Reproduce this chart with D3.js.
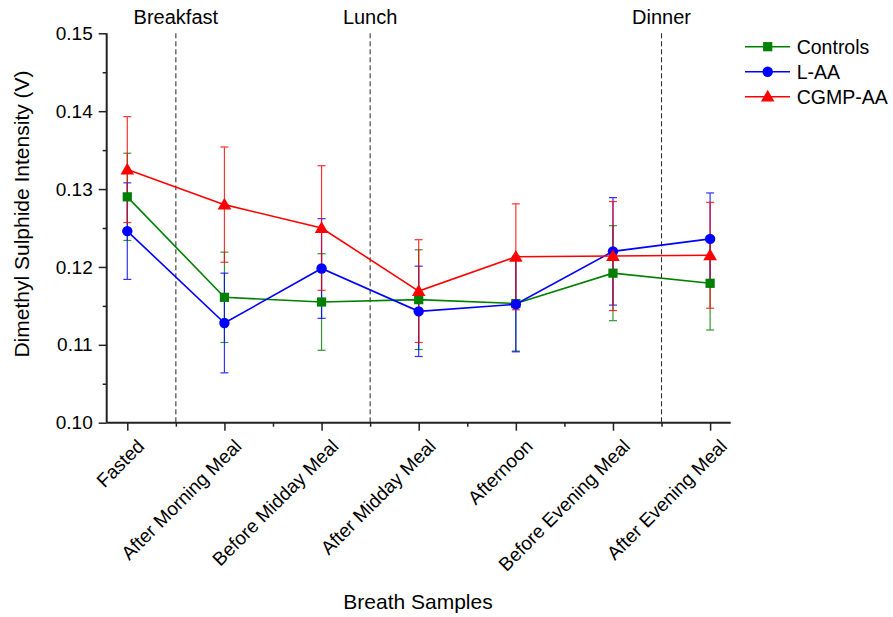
<!DOCTYPE html>
<html><head><meta charset="utf-8">
<script src="https://cdn.jsdelivr.net/npm/d3@7"></script>
<style>body{margin:0;background:#fff}svg{display:block;font-family:"Liberation Sans",Arial,sans-serif}</style>
</head><body><svg id="c" width="893" height="617"></svg>
<script>
const categories = ["Fasted","After Morning Meal","Before Midday Meal","After Midday Meal","Afternoon","Before Evening Meal","After Evening Meal"];
const seriesNames = ["Controls","L-AA","CGMP-AA"];
const controls = [0.1290,0.1161,0.1155,0.1158,0.1153,0.1192,0.1179];
const controlsErr = [0.0056,0.0058,0.0062,0.0064,0.0061,0.0061,0.0060];
const laa = [0.1246,0.1128,0.1198,0.1143,0.1152,0.1220,0.1236];
const laaErr = [0.0062,0.0064,0.0064,0.0058,0.0061,0.0069,0.0059];
const cgmp = [0.1325,0.1280,0.1250,0.1169,0.1213,0.1214,0.1215];
const cgmpErr = [0.0068,0.0074,0.0080,0.0066,0.0068,0.0070,0.0068];
const yTicks = [0.10,0.11,0.12,0.13,0.14,0.15];
const meals = [{label:"Breakfast",after:0},{label:"Lunch",after:2},{label:"Dinner",after:5}];

const svg = d3.select("#c");
const x = d3.scaleLinear().domain([-0.212,6.212]).range([106.7,730.7]);
const y = d3.scaleLinear().domain([0.10,0.15]).range([422.7,33.3]);

// dashed meal lines
meals.forEach(m=>{
  const xm = x(m.after+0.5);
  svg.append("line").attr("x1",xm).attr("x2",xm).attr("y1",y(0.15)).attr("y2",y(0.10))
    .attr("stroke","#222").attr("stroke-width",1).attr("stroke-dasharray","5,3");
  svg.append("text").attr("x",xm).attr("y",24).attr("text-anchor","middle")
    .attr("font-size",20).attr("fill","#000").text(m.label);
});

// y axis
const yAxis = d3.axisLeft(y).tickValues(yTicks).tickFormat(d3.format(".2f")).tickSize(8).tickPadding(6);
const gy = svg.append("g").attr("transform","translate(106.7,0)").call(yAxis);
gy.select(".domain").attr("stroke","#222").attr("stroke-width",2).attr("d",`M0,${y(0.10)}V${y(0.15)}`);
gy.selectAll(".tick line").attr("stroke","#222").attr("stroke-width",1.5);
gy.selectAll(".tick text").attr("font-size",19).attr("fill","#000").attr("font-family","Liberation Sans, Arial, sans-serif");
const yMinor = d3.axisLeft(y).tickValues([0.105,0.115,0.125,0.135,0.145]).tickSize(4).tickFormat("");
const gym = svg.append("g").attr("transform","translate(106.7,0)").call(yMinor);
gym.select(".domain").remove();
gym.selectAll(".tick line").attr("stroke","#222").attr("stroke-width",1.5);

// x axis
const xAxis = d3.axisBottom(x).tickValues(d3.range(categories.length)).tickFormat(i=>categories[i]).tickSize(8).tickPadding(4);
const gx = svg.append("g").attr("transform",`translate(0,${y(0.10)})`).call(xAxis);
gx.select(".domain").attr("stroke","#222").attr("stroke-width",2).attr("d",`M${x.range()[0]},0H${x.range()[1]}`);
gx.selectAll(".tick line").attr("stroke","#222").attr("stroke-width",1.5);
gx.selectAll(".tick text").attr("font-size",19).attr("fill","#000").attr("font-family","Liberation Sans, Arial, sans-serif")
  .attr("text-anchor","end").attr("dy","0.35em").attr("transform","translate(13,20) rotate(-45)").attr("y",0).attr("x",0);
const xMinor = d3.axisBottom(x).tickValues(d3.range(categories.length-1).map(i=>i+0.5)).tickSize(4).tickFormat("");
const gxm = svg.append("g").attr("transform",`translate(0,${y(0.10)})`).call(xMinor);
gxm.select(".domain").remove();
gxm.selectAll(".tick line").attr("stroke","#222").attr("stroke-width",1.5);

// axis titles
svg.append("text").attr("x",418).attr("y",609).attr("text-anchor","middle").attr("font-size",21).text("Breath Samples");
svg.append("text").attr("transform","translate(29,214) rotate(-90)").attr("text-anchor","middle").attr("font-size",21).text("Dimethyl Sulphide Intensity (V)");

const series = [
  {name:seriesNames[0], vals:controls, err:controlsErr, color:"#008000", shape:d3.symbolSquare, size:85},
  {name:seriesNames[1], vals:laa, err:laaErr, color:"#0000ff", shape:d3.symbolCircle, size:85},
  {name:seriesNames[2], vals:cgmp, err:cgmpErr, color:"#ff0000", shape:d3.symbolTriangle, size:80}
];
const cap = 4;
series.forEach(s=>{
  const g = svg.append("g").attr("opacity",0.8);
  s.vals.forEach((v,i)=>{
    const xi = x(i), y1 = y(v+s.err[i]), y2 = y(v-s.err[i]);
    g.append("line").attr("x1",xi).attr("x2",xi).attr("y1",y1).attr("y2",y2).attr("stroke",s.color).attr("stroke-width",1.2);
    g.append("line").attr("x1",xi-cap).attr("x2",xi+cap).attr("y1",y1).attr("y2",y1).attr("stroke",s.color).attr("stroke-width",1.2);
    g.append("line").attr("x1",xi-cap).attr("x2",xi+cap).attr("y1",y2).attr("y2",y2).attr("stroke",s.color).attr("stroke-width",1.2);
  });
});
series.forEach(s=>{
  const line = d3.line().x((d,i)=>x(i)).y(d=>y(d));
  svg.append("path").attr("d",line(s.vals)).attr("fill","none").attr("stroke",s.color).attr("stroke-width",1.6);
  s.vals.forEach((v,i)=>{
    svg.append("path").attr("d",d3.symbol(s.shape,s.size)()).attr("transform",`translate(${x(i)},${y(v)+(s.shape===d3.symbolTriangle?1:0)})`).attr("fill",s.color);
  });
});

// legend
series.forEach((s,k)=>{
  const ly = 46.7 + k*25;
  svg.append("line").attr("x1",745).attr("x2",790).attr("y1",ly).attr("y2",ly).attr("stroke",s.color).attr("stroke-width",1.6);
  svg.append("path").attr("d",d3.symbol(s.shape,s.size)()).attr("transform",`translate(767.7,${ly+(s.shape===d3.symbolTriangle?1:0)})`).attr("fill",s.color);
  svg.append("text").attr("x",796.7).attr("y",ly).attr("dy","0.35em").attr("font-size",19.5).text(s.name);
});
</script></body></html>
